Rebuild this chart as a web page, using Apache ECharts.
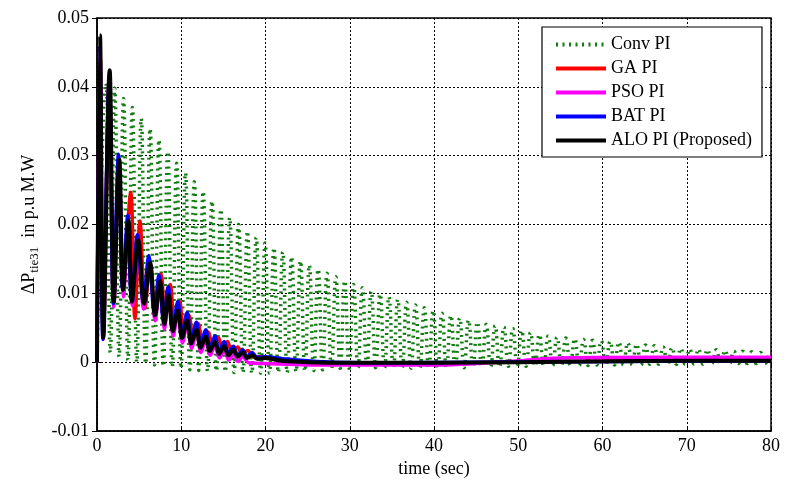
<!DOCTYPE html>
<html>
<head>
<meta charset="utf-8">
<title>Tie-line power deviation</title>
<script src="https://cdn.jsdelivr.net/npm/echarts@6/dist/echarts.min.js"></script>
<style>
  html, body { margin: 0; padding: 0; background: #fff; }
  #chart { width: 803px; height: 484px; }
</style>
</head>
<body>
<div id="chart"></div>
<script>
// x axis ticks
var xTicks = [0, 10, 20, 30, 40, 50, 60, 70, 80]
var yTicks = [-0.01, 0, 0.01, 0.02, 0.03, 0.04, 0.05]

// Conv PI: fast oscillation, peaks and troughs
var convPeriod = 1.05
var convPeaks = [
  0.0405, 0.0398, 0.0383, 0.0370, 0.0354, 0.0339, 0.0323, 0.0306, 0.0289, 0.0275,
  0.0262, 0.0248, 0.0234, 0.0222, 0.0210, 0.0200, 0.0190, 0.0181, 0.0173, 0.0166,
  0.0160, 0.0153, 0.0147, 0.0141, 0.0135, 0.0129, 0.0124, 0.0118, 0.0113, 0.0108,
  0.0103, 0.0099, 0.0095, 0.0091, 0.0087, 0.0083, 0.0079, 0.0075, 0.0071, 0.0068,
  0.0064, 0.0061, 0.0058, 0.0055, 0.0053, 0.0051, 0.0049, 0.0046, 0.0043, 0.0040,
  0.0038, 0.0036, 0.0035, 0.0034, 0.0033, 0.0032, 0.0031, 0.0030, 0.0029, 0.0028,
  0.0026, 0.0025, 0.0024, 0.0022, 0.0021, 0.0020, 0.0019, 0.0019, 0.0018, 0.0018,
  0.0017, 0.0016, 0.0016, 0.0015, 0.0014, 0.0013
]
var convTroughs = [
  0.0014, 0.0008, 0.0003, 0.0000, -0.0002, -0.0004, -0.0006, -0.0007, -0.0009, -0.0011,
  -0.0012, -0.0013, -0.0013, -0.0014, -0.0015, -0.0015, -0.0016, -0.0016, -0.0016, -0.0015,
  -0.0015, -0.0014, -0.0013, -0.0012, -0.0011, -0.0010, -0.0009, -0.0009, -0.0008, -0.0008,
  -0.0008, -0.0008, -0.0008, -0.0008, -0.0009, -0.0009, -0.0009, -0.0009, -0.0008, -0.0008,
  -0.0008, -0.0007, -0.0007, -0.0007, -0.0007, -0.0006, -0.0006, -0.0006, -0.0006, -0.0006,
  -0.0005, -0.0005, -0.0005, -0.0005, -0.0005, -0.0004, -0.0004, -0.0004, -0.0004, -0.0004,
  -0.0004, -0.0003, -0.0003, -0.0003, -0.0003, -0.0003, -0.0003, -0.0003, -0.0002, -0.0002,
  -0.0002, -0.0002, -0.0002, -0.0002, -0.0002
]

// GA PI
var gaTime = [0, 0.35, 0.75, 1.45, 1.95, 2.6, 3.1, 4.0, 4.5, 5.1, 5.7, 6.3, 6.9, 7.6, 8.1, 8.7, 9.2, 9.8, 10.3, 10.9,
  11.4, 12.0, 12.5, 13.2, 13.7, 14.4, 14.9, 15.5, 16.0, 16.7, 17.2, 17.9, 18.5, 19.5, 21, 23, 26, 30, 40, 45, 55, 65, 80]
var gaValue = [0, 0.046, 0.004, 0.041, 0.009, 0.029, 0.0105, 0.0247, 0.0063, 0.0205, 0.0078, 0.0145, 0.0068, 0.0128, 0.0062, 0.0113, 0.0055, 0.0088, 0.0046, 0.0068,
  0.0037, 0.0056, 0.0031, 0.0044, 0.0024, 0.0036, 0.0018, 0.0030, 0.0014, 0.0022, 0.0011, 0.0017, 0.0008, 0.0008, 0.0004, 0.0002, 0, -0.0001, -0.0002, -0.0001, 0.0001, 0.0002, 0.0002]

// PSO PI
var psoTime = [0, 0.35, 0.75, 1.45, 2.0, 2.6, 3.15, 3.7, 4.2, 4.85, 5.55, 6.25, 6.9, 7.45, 8.0, 8.5, 9.05, 9.6, 10.15, 10.7,
  11.25, 11.8, 12.35, 12.9, 13.45, 14.0, 14.55, 15.1, 15.65, 16.2, 16.75, 17.3, 18, 20, 25, 30, 40, 45, 50, 55, 65, 80]
var psoValue = [0, 0.046, 0.0034, 0.0415, 0.008, 0.029, 0.0095, 0.020, 0.0082, 0.0172, 0.0077, 0.014, 0.006, 0.0115, 0.0048, 0.0095, 0.0038, 0.007, 0.0028, 0.0055,
  0.002, 0.0042, 0.0014, 0.0032, 0.001, 0.0024, 0.0006, 0.0017, 0.0003, 0.0012, 0.0001, 0.0008, -0.0001, -0.0002, -0.0004, -0.0004, -0.0004, -0.0002, 0.0002, 0.0006, 0.0007, 0.0007]

// BAT PI
var batTime = [0, 0.35, 0.7, 1.45, 1.95, 2.55, 3.05, 3.65, 4.1, 4.8, 5.5, 6.15, 6.8, 7.35, 7.9, 8.45, 9.0, 9.6, 10.1, 10.7,
  11.2, 11.8, 12.3, 12.9, 13.4, 14.0, 14.5, 15.1, 15.6, 16.2, 16.7, 17.3, 17.8, 18.4, 19, 20, 22, 25, 28, 35, 45, 60, 80]
var batValue = [0, 0.046, 0.0033, 0.041, 0.0085, 0.0302, 0.0105, 0.0213, 0.009, 0.0185, 0.0088, 0.0155, 0.0072, 0.0127, 0.006, 0.011, 0.0052, 0.0088, 0.0042, 0.0072,
  0.0034, 0.0058, 0.0027, 0.0047, 0.0021, 0.0038, 0.0016, 0.003, 0.0013, 0.0023, 0.001, 0.0018, 0.0008, 0.0014, 0.0007, 0.0008, 0.0005, 0.0002, 0, -0.0001, 0, 0.0001, 0.0002]

// ALO PI (Proposed)
var aloTime = [0, 0.36, 0.75, 1.5, 2.0, 2.65, 3.1, 3.75, 4.15, 4.9, 5.6, 6.3, 6.9, 7.5, 8.0, 8.5, 9.0, 9.6, 10.1, 10.7,
  11.2, 11.8, 12.3, 12.9, 13.4, 14.0, 14.5, 15.1, 15.6, 16.2, 16.7, 17.3, 17.8, 18.4, 19, 20, 22, 25, 30, 40, 50, 60, 70, 80]
var aloValue = [0, 0.0475, 0.0036, 0.0424, 0.0088, 0.0294, 0.0105, 0.0205, 0.0088, 0.0177, 0.0085, 0.0144, 0.0068, 0.0118, 0.0055, 0.0098, 0.0045, 0.0075, 0.0035, 0.006,
  0.0027, 0.0047, 0.0021, 0.0037, 0.0016, 0.0029, 0.0012, 0.0023, 0.0010, 0.0018, 0.0008, 0.0014, 0.0006, 0.0010, 0.0005, 0.0006, 0.0002, 0, -0.0001, -0.0001, 0, 0.0001, 0.0002, 0.0002]

function pairs(t, v) {
  return t.map(function (x, i) { return [x, v[i]] })
}

// build the Conv PI polyline: start at 0, then peak / trough alternately
var convData = [[0, 0]]
convPeaks.forEach(function (p, i) {
  var t = convPeriod * (i + 1)
  convData.push([t, p])
  if (i < convTroughs.length) convData.push([t + convPeriod / 2, convTroughs[i]])
})

var serif = 'Liberation Serif'
var myChart = echarts.init(document.getElementById('chart'), null, { renderer: 'canvas' })

var inTick = { show: true, inside: true, length: 5, lineStyle: { color: '#000', width: 1 } }

myChart.setOption({
  animation: false,
  backgroundColor: '#fff',
  grid: {
    left: 97,
    right: 32,
    top: 18,
    bottom: 53,
    show: true,
    borderColor: '#000',
    borderWidth: 1.5
  },
  legend: {
    orient: 'vertical',
    left: 542,
    top: 27,
    padding: [7, 10, 6, 12],
    itemWidth: 50,
    itemHeight: 14,
    itemGap: 3,
    backgroundColor: '#fff',
    borderColor: '#000',
    borderWidth: 1.2,
    // hide the marker dot, keep only the line sample
    itemStyle: { color: 'transparent', borderWidth: 0 },
    lineStyle: { width: 4 },
    textStyle: { fontFamily: serif, fontSize: 18, color: '#000', lineHeight: 21 },
    data: ['Conv PI', 'GA PI', 'PSO PI', 'BAT PI', 'ALO PI (Proposed)']
  },
  xAxis: [
    {
      type: 'value',
      min: 0,
      max: 80,
      interval: 10,
      name: 'time (sec)',
      nameLocation: 'middle',
      nameGap: 25,
      nameTextStyle: { fontFamily: serif, fontSize: 18, color: '#000' },
      axisLine: { show: true, onZero: false, lineStyle: { color: '#000', width: 1.5 } },
      axisTick: inTick,
      axisLabel: { fontFamily: serif, fontSize: 18, color: '#000', margin: 6 },
      splitLine: { show: true, lineStyle: { type: [2, 2], color: '#000', width: 1 } }
    },
    {
      // top border ticks
      type: 'value',
      position: 'top',
      min: 0,
      max: 80,
      interval: 10,
      axisLine: { show: false },
      axisTick: inTick,
      axisLabel: { show: false },
      splitLine: { show: false }
    }
  ],
  yAxis: [
    {
      type: 'value',
      min: -0.01,
      max: 0.05,
      interval: 0.01,
      name: '{a|ΔP}{b|tie31}{a|  in p.u M.W}',
      nameLocation: 'middle',
      nameGap: 56,
      nameTextStyle: {
        color: '#000',
        rich: {
          a: { fontFamily: serif, fontSize: 18, color: '#000' },
          b: { fontFamily: serif, fontSize: 13, color: '#000', padding: [10, 0, 0, 0] }
        }
      },
      axisLine: { show: true, onZero: false, lineStyle: { color: '#000', width: 1.5 } },
      axisTick: inTick,
      axisLabel: { fontFamily: serif, fontSize: 18, color: '#000', margin: 8 },
      splitLine: { show: true, lineStyle: { type: [2, 2], color: '#000', width: 1 } }
    },
    {
      // right border ticks
      type: 'value',
      position: 'right',
      min: -0.01,
      max: 0.05,
      interval: 0.01,
      axisLine: { show: false },
      axisTick: inTick,
      axisLabel: { show: false },
      splitLine: { show: false }
    }
  ],
  series: [
    {
      name: 'Conv PI',
      type: 'line',
      symbol: 'none',
      smooth: 0.5,
      data: convData,
      lineStyle: { color: '#117d11', width: 3.5, type: [2, 4.5], cap: 'butt' },
      itemStyle: { color: '#117d11' },
      z: 2
    },
    {
      name: 'GA PI',
      type: 'line',
      symbol: 'none',
      smooth: 0.35,
      data: pairs(gaTime, gaValue),
      lineStyle: { color: '#ff0000', width: 3.5 },
      itemStyle: { color: '#ff0000' },
      z: 3
    },
    {
      name: 'PSO PI',
      type: 'line',
      symbol: 'none',
      smooth: 0.35,
      data: pairs(psoTime, psoValue),
      lineStyle: { color: '#ff00ff', width: 3.5 },
      itemStyle: { color: '#ff00ff' },
      z: 4
    },
    {
      name: 'BAT PI',
      type: 'line',
      symbol: 'none',
      smooth: 0.35,
      data: pairs(batTime, batValue),
      lineStyle: { color: '#0000ff', width: 3.5 },
      itemStyle: { color: '#0000ff' },
      z: 5
    },
    {
      name: 'ALO PI (Proposed)',
      type: 'line',
      symbol: 'none',
      smooth: 0.35,
      data: pairs(aloTime, aloValue),
      lineStyle: { color: '#000000', width: 4 },
      itemStyle: { color: '#000000' },
      z: 6
    }
  ]
})
</script>
</body>
</html>
